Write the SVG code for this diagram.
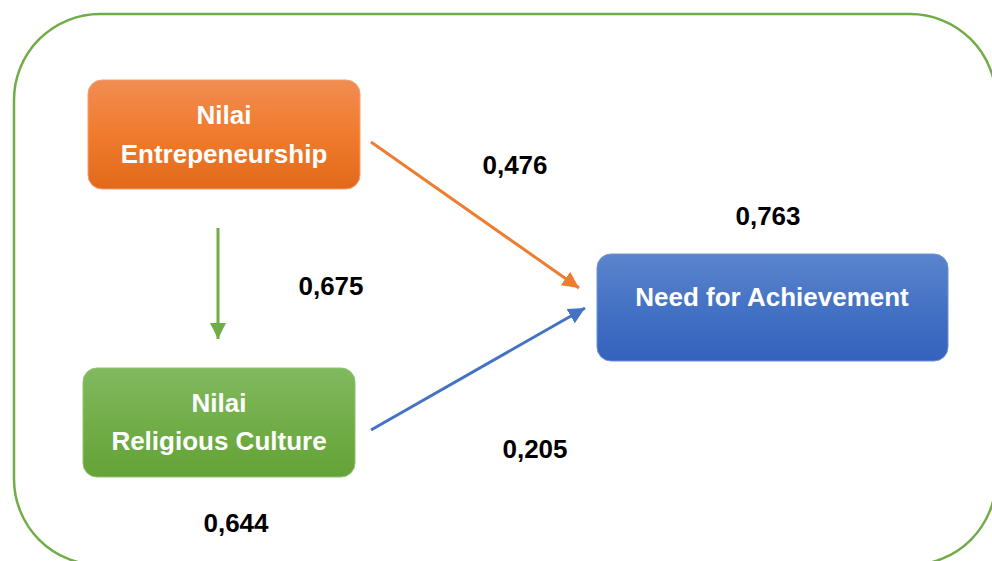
<svg xmlns="http://www.w3.org/2000/svg" width="992" height="561" viewBox="0 0 992 561">
<style>
.node-text{font-family:"Liberation Sans",Arial,sans-serif;font-weight:bold;font-size:26px;fill:#ffffff;text-anchor:middle}
.label{font-family:"Liberation Sans",Arial,sans-serif;font-weight:bold;font-size:26px;fill:#000000;text-anchor:middle}
.conn{fill:none;stroke-width:3}
</style>
<defs>
<linearGradient id="gOrange" x1="0" y1="0" x2="0" y2="1">
<stop offset="0" stop-color="#f18d53"/>
<stop offset="0.5" stop-color="#f07b2c"/>
<stop offset="1" stop-color="#e2691b"/>
</linearGradient>
<linearGradient id="gGreen" x1="0" y1="0" x2="0" y2="1">
<stop offset="0" stop-color="#80b960"/>
<stop offset="0.5" stop-color="#72ae48"/>
<stop offset="1" stop-color="#63a337"/>
</linearGradient>
<linearGradient id="gBlue" x1="0" y1="0" x2="0" y2="1">
<stop offset="0" stop-color="#5b84cc"/>
<stop offset="0.5" stop-color="#4472c4"/>
<stop offset="1" stop-color="#3462bd"/>
</linearGradient>
<marker id="aGreen" viewBox="0 0 10 10" refX="10" refY="5" markerWidth="5.5" markerHeight="5.5" markerUnits="strokeWidth" orient="auto">
<path d="M0,0 L10,5 L0,10 z" fill="#70ad47"/>
</marker>
<marker id="aOrange" viewBox="0 0 10 10" refX="10" refY="5" markerWidth="5.5" markerHeight="5.5" markerUnits="strokeWidth" orient="auto">
<path d="M0,0 L10,5 L0,10 z" fill="#ed7d31"/>
</marker>
<marker id="aBlue" viewBox="0 0 10 10" refX="10" refY="5" markerWidth="5.5" markerHeight="5.5" markerUnits="strokeWidth" orient="auto">
<path d="M0,0 L10,5 L0,10 z" fill="#4472c4"/>
</marker>
</defs>
<rect x="0" y="0" width="992" height="561" fill="#ffffff"/>
<rect id="frame" x="14" y="14" width="982" height="551" rx="86" ry="86" fill="none" stroke="#70ad47" stroke-width="2.5"/>

<g id="connectors">
<line class="conn" x1="218" y1="228" x2="218" y2="339" stroke="#70ad47" marker-end="url(#aGreen)"/>
<line class="conn" x1="371" y1="142" x2="579" y2="288" stroke="#ed7d31" marker-end="url(#aOrange)"/>
<line class="conn" x1="371" y1="430" x2="585" y2="308" stroke="#4472c4" marker-end="url(#aBlue)"/>
</g>

<g id="node-entrepreneurship">
<rect x="88" y="80" width="272" height="109" rx="14" ry="14" fill="url(#gOrange)" stroke="#f4a070" stroke-width="1"/>
<text class="node-text" x="224" y="124">Nilai</text>
<text class="node-text" x="224" y="163">Entrepeneurship</text>
</g>

<g id="node-religious">
<rect x="83" y="368" width="272" height="109" rx="14" ry="14" fill="url(#gGreen)" stroke="#8fc46e" stroke-width="1"/>
<text class="node-text" x="219" y="412">Nilai</text>
<text class="node-text" x="219" y="450">Religious Culture</text>
</g>

<g id="node-achievement">
<rect x="597" y="254" width="351" height="107" rx="14" ry="14" fill="url(#gBlue)" stroke="#6f93d3" stroke-width="1"/>
<text class="node-text" x="772" y="306">Need for Achievement</text>
</g>

<g id="labels">
<text class="label" x="515" y="174">0,476</text>
<text class="label" x="768" y="225">0,763</text>
<text class="label" x="331" y="295">0,675</text>
<text class="label" x="535" y="458">0,205</text>
<text class="label" x="236" y="532">0,644</text>
</g>
</svg>
